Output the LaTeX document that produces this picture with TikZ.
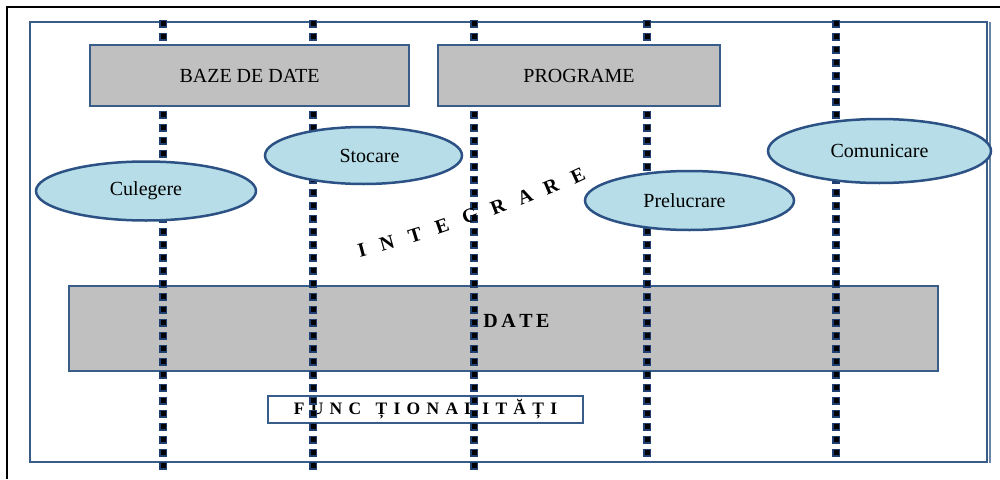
\documentclass[tikz,border=0pt]{standalone}
\usepackage{fontspec}
\setmainfont{Liberation Serif}
\usetikzlibrary{shapes.geometric}
\definecolor{frameblue}{HTML}{385D8A}
\definecolor{edgeblue}{HTML}{2C5285}
\definecolor{boxgray}{HTML}{C0C0C0}
\definecolor{bubble}{HTML}{B7DEE8}
\definecolor{dotblue}{HTML}{1F3F70}
\newcommand{\lgap}{\hspace{6.3pt}}
\begin{document}
\begin{tikzpicture}[x=1pt,y=-1pt,
  graybox/.style={draw=frameblue, line width=2pt, fill=boxgray, inner sep=0pt,
    font=\fontsize{20}{24}\selectfont},
  bubblenode/.style={ellipse, draw=edgeblue, line width=2.5pt, fill=bubble,
    inner sep=0pt, font=\fontsize{20}{24}\selectfont},
  axisline/.style={
    preaction={draw=dotblue, line width=7.5pt, dash pattern=on 7.5pt off 5.5pt, dash phase=0pt},
    draw=black, line width=5pt, dash pattern=on 5pt off 8pt, dash phase=11.75pt},
  arcletter/.style={inner sep=0pt, font=\fontsize{20}{24}\selectfont\bfseries}
]
\useasboundingbox (0,0) rectangle (1000,479);
\fill[white] (0,0) rectangle (1000,479);

% page frame
\draw[line width=2pt] (7,479) -- (7,7) -- (1000,7);

% outer blue frame with its doubled right edge
\draw[frameblue, line width=2pt] (30,22) rectangle (987,462);
\draw[frameblue!75, line width=1.5pt] (990,22) -- (990,463);

% data layer and its caption box
\node[draw=frameblue, line width=2pt, fill=boxgray, minimum width=869pt,
  minimum height=85pt, inner sep=0pt] (datebox) at (503.5,328.5) {};
\node[inner sep=0pt, font=\fontsize{20}{22}\selectfont\bfseries] (datetxt) at (516.5,321)
  {D\hspace{3.5pt}A\hspace{3.5pt}T\hspace{3.5pt}E};
\node[draw=frameblue, line width=1.5pt, fill=white, minimum width=315pt,
  minimum height=27pt, inner sep=0pt, font=\fontsize{17.5}{19}\selectfont\bfseries]
  (func) at (425.5,409.5)
  {F\lgap U\lgap N\lgap C\lgap\hspace{8pt}Ț\lgap I\lgap O\lgap N\lgap A\lgap L\lgap I\lgap T\lgap Ă\lgap Ț\lgap I};

% vertical integration axes
\coordinate (t1) at (163,20); \coordinate (b1) at (163,470);
\coordinate (t2) at (313,20); \coordinate (b2) at (313,470);
\coordinate (t3) at (474,20); \coordinate (b3) at (474,470);
\coordinate (t4) at (647,20); \coordinate (b4) at (647,462);
\coordinate (t5) at (836,20); \coordinate (b5) at (836,462);
\foreach \i in {1,...,5} \draw[axisline] (t\i) -- (b\i);

% top boxes
\node[graybox, minimum width=319pt, minimum height=61pt] (baze) at (249.5,75.5) {BAZE DE DATE};
\node[graybox, minimum width=282pt, minimum height=61pt] (programe) at (579,75.5) {PROGRAME};

% functions
\node[bubblenode, minimum width=220pt, minimum height=59pt] (culegere) at (146,191) {Culegere};
\node[bubblenode, minimum width=197pt, minimum height=57pt] (stocare) at (363.5,155.5) {\hspace{12pt}Stocare};
\node[bubblenode, minimum width=209pt, minimum height=59pt] (prelucrare) at (689.5,200.5) {\hspace{-10pt}Prelucrare};
\node[bubblenode, minimum width=223pt, minimum height=64pt] (comunicare) at (879.5,151) {Comunicare};

% arched caption
\node[arcletter, rotate=15] (l1) at (362,250) {I};
\node[arcletter, rotate=16] (l2) at (387,243) {N};
\node[arcletter, rotate=17] (l3) at (415,235) {T};
\node[arcletter, rotate=19] (l4) at (442,226) {E};
\node[arcletter, rotate=20] (l5) at (470,216) {G};
\node[arcletter, rotate=21] (l6) at (498,207) {R};
\node[arcletter, rotate=22] (l7) at (525,197) {A};
\node[arcletter, rotate=23] (l8) at (551,187) {R};
\node[arcletter, rotate=25] (l9) at (578,176) {E};
\end{tikzpicture}
\end{document}
